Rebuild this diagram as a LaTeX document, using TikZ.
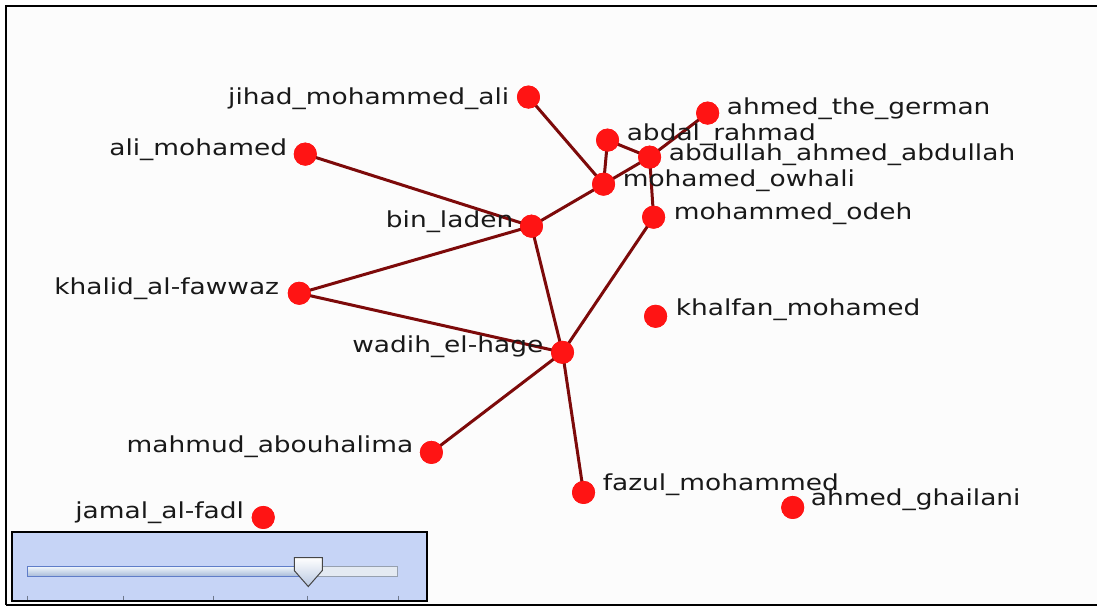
\documentclass[tikz,border=0pt]{standalone}
\usepackage{fontspec}
\newfontfamily\lblfont[FakeStretch=1.2]{DejaVu Sans}
\usetikzlibrary{shadings}
\definecolor{edgecol}{RGB}{125,10,10}
\definecolor{nodecol}{RGB}{255,20,20}
\definecolor{panelcol}{RGB}{198,212,246}
\definecolor{txtcol}{RGB}{25,25,25}
\definecolor{trackR}{RGB}{228,234,242}
\definecolor{trackRd}{RGB}{150,160,175}
\definecolor{trackLd}{RGB}{95,125,200}
\definecolor{trackLt}{RGB}{240,246,252}
\definecolor{trackLb}{RGB}{165,185,215}
\definecolor{thumbd}{RGB}{70,70,70}
\definecolor{thumbb}{RGB}{185,200,225}
\definecolor{tickcol}{RGB}{110,120,140}
\tikzset{
  vert/.style={circle,fill=nodecol,inner sep=0pt,minimum size=23pt},
  link/.style={draw=edgecol,line width=3pt},
  lblR/.style={anchor=base west,font=\lblfont\fontsize{22}{24}\selectfont,text=txtcol,inner sep=0pt},
  lblL/.style={anchor=base east,font=\lblfont\fontsize{22}{24}\selectfont,text=txtcol,inner sep=0pt},
}
\begin{document}
\begin{tikzpicture}[x=1pt,y=-1pt]
\useasboundingbox (0,0) rectangle (1096,606.5);
\fill[white] (-5,-5) rectangle (1110,615);
\fill[white!99!black] (7,7) rectangle (1110,603);
% frame
\draw[line width=2pt,black] (6,604) -- (6,6) -- (1110,6);
\draw[line width=2pt,black] (6,604) -- (1110,604);
% nodes
\node[vert] (jihad) at (528,97) {};
\node[vert] (german) at (707,113) {};
\node[vert] (abdal) at (607,140) {};
\node[vert] (abdullah) at (649,157) {};
\node[vert] (ali) at (305,154) {};
\node[vert] (owhali) at (603,184) {};
\node[vert] (binladen) at (531,226) {};
\node[vert] (odeh) at (653,217) {};
\node[vert] (khalid) at (299,293) {};
\node[vert] (khalfan) at (655,316) {};
\node[vert] (wadih) at (562,352) {};
\node[vert] (mahmud) at (431,452) {};
\node[vert] (fazul) at (583,492) {};
\node[vert] (ghailani) at (792,507) {};
\node[vert] (jamal) at (263,517) {};
% edges
\path[link] (jihad.center) -- (owhali.center);
\path[link] (abdal.center) -- (owhali.center);
\path[link] (abdal.center) -- (abdullah.center);
\path[link] (german.center) -- (abdullah.center);
\path[link] (abdullah.center) -- (owhali.center);
\path[link] (abdullah.center) -- (odeh.center);
\path[link] (owhali.center) -- (binladen.center);
\path[link] (ali.center) -- (binladen.center);
\path[link] (binladen.center) -- (khalid.center);
\path[link] (binladen.center) -- (wadih.center);
\path[link] (khalid.center) -- (wadih.center);
\path[link] (odeh.center) -- (wadih.center);
\path[link] (wadih.center) -- (mahmud.center);
\path[link] (wadih.center) -- (fazul.center);
% redraw nodes on top
\foreach \n in {jihad,german,abdal,abdullah,ali,owhali,binladen,odeh,khalid,khalfan,wadih,mahmud,fazul,ghailani,jamal}
  \fill[nodecol] (\n) circle (11.5pt);
% labels
\node[lblL] (tjihad) at (509,104) {jihad\_mohammed\_ali};
\node[lblR] (tgerman) at (726,114) {ahmed\_the\_german};
\node[lblR] (tabdal) at (626,140) {abdal\_rahmad};
\node[lblR] (tabdullah) at (668,160) {abdullah\_ahmed\_abdullah};
\node[lblL] (tali) at (287,155) {ali\_mohamed};
\node[lblR] (towhali) at (622,186) {mohamed\_owhali};
\node[lblL] (tbinladen) at (513,227) {bin\_laden};
\node[lblR] (todeh) at (673,219) {mohammed\_odeh};
\node[lblL] (tkhalid) at (279,294) {khalid\_al-fawwaz};
\node[lblR] (tkhalfan) at (675,315) {khalfan\_mohamed};
\node[lblL] (twadih) at (543,352) {wadih\_el-hage};
\node[lblL] (tmahmud) at (413,452) {mahmud\_abouhalima};
\node[lblR] (tfazul) at (602,490) {fazul\_mohammed};
\node[lblR] (tghailani) at (810,505) {ahmed\_ghailani};
\node[lblL] (tjamal) at (244,518) {jamal\_al-fadl};
% slider panel
\draw[line width=2pt,black,fill=panelcol] (12,532) rectangle (427,600);
\draw[line width=0.8pt,draw=trackRd,fill=trackR] (308,566) rectangle (397,576);
\draw[line width=0.8pt,draw=trackLd,top color=trackLt,bottom color=trackLb] (27,566) rectangle (308,576);
\draw[line width=1pt,draw=thumbd,top color=white,bottom color=thumbb]
  (294,557) -- (294,570) -- (308,586) -- (322,570) -- (322,557) -- cycle;
\foreach \tx in {27,123,213,307,398}
  \draw[line width=0.8pt,tickcol] (\tx,595) -- (\tx,599);
\end{tikzpicture}
\end{document}
